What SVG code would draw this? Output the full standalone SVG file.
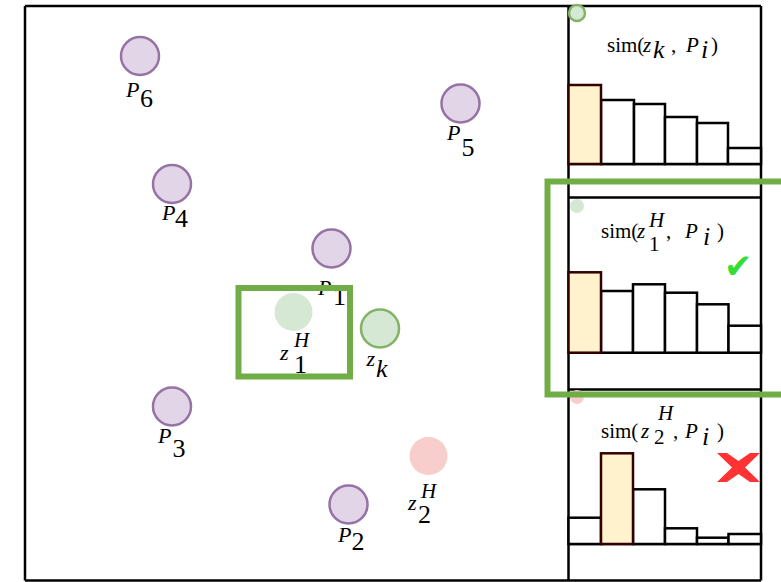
<svg xmlns="http://www.w3.org/2000/svg" width="781" height="582" viewBox="0 0 781 582">
<style>
.frame{fill:none;stroke:#000;stroke-width:2.5}
.bar{fill:#fff;stroke:#000;stroke-width:2.5}
.hbar{fill:#fff2cc;stroke:#330000;stroke-width:2.5}
.proto{fill:#e1d5e7;stroke:#9673a6;stroke-width:2.5}
.gsel{fill:none;stroke:#70ad47;stroke-width:6}
.t,.m{font-family:"Liberation Serif","Times New Roman","DejaVu Serif",serif;fill:#000}
.t{font-size:21px}
.m{font-size:22px}
.it{font-style:italic}
.sub{font-size:26px}
.sup{font-size:21px}
.ok{font-family:"DejaVu Sans",sans-serif;font-size:34px;fill:#33dd33}
</style>
<rect width="781" height="582" fill="#fff"/>

<!-- frames -->
<g id="frame">
<line class="frame" x1="25" y1="6" x2="761" y2="6"/>
<line class="frame" x1="25" y1="580.5" x2="761" y2="580.5"/>
<line class="frame" x1="25" y1="6" x2="25" y2="580.5"/>
<line class="frame" x1="568.5" y1="6" x2="568.5" y2="580.5"/>
<line class="frame" x1="761" y1="6" x2="761" y2="580.5"/>
<line class="frame" x1="568.5" y1="164" x2="761" y2="164"/>
<line class="frame" x1="568.5" y1="197.5" x2="761" y2="197.5"/>
<line class="frame" x1="568.5" y1="352.7" x2="761" y2="352.7"/>
<line class="frame" x1="568.5" y1="389.5" x2="761" y2="389.5"/>
<line class="frame" x1="568.5" y1="544" x2="761" y2="544"/>
</g>

<!-- panel 1 -->
<g id="panel1">
<circle cx="577" cy="13" r="8" fill="#d5e8d4" stroke="#82b366" stroke-width="2.5"/>
<text class="t" y="52"><tspan x="607">sim(</tspan><tspan class="it" x="643">z</tspan><tspan class="it sub" x="653" y="58">k</tspan><tspan x="671" y="52">,</tspan><tspan class="it" x="686">P</tspan><tspan class="it sub" x="701" y="58">i</tspan><tspan x="711" y="52">)</tspan></text>
<rect class="bar" x="601" y="100" width="33" height="64"/>
<rect class="bar" x="634" y="104" width="31" height="60"/>
<rect class="bar" x="665" y="117" width="32" height="47"/>
<rect class="bar" x="697" y="123" width="31" height="41"/>
<rect class="bar" x="728" y="148" width="33" height="16"/>
<rect class="hbar" x="568.5" y="85" width="32.5" height="79"/>
</g>

<!-- panel 2 -->
<g id="panel2">
<circle cx="577" cy="206" r="7" fill="#d5e8d4"/>
<text class="t" y="238"><tspan x="601">sim(</tspan><tspan class="it" x="637">z</tspan><tspan class="it sup" x="649" y="227">H</tspan><tspan x="649" y="251" font-size="21">1</tspan><tspan x="666" y="238">,</tspan><tspan class="it" x="685">P</tspan><tspan class="it sub" x="703" y="245">i</tspan><tspan x="717" y="238">)</tspan></text>
<rect class="bar" x="601" y="291" width="32" height="61.7"/>
<rect class="bar" x="633" y="284.3" width="32" height="68.4"/>
<rect class="bar" x="665" y="292.7" width="32" height="60"/>
<rect class="bar" x="697" y="304.3" width="31.5" height="48.4"/>
<rect class="bar" x="728.5" y="325.7" width="32.5" height="27"/>
<rect class="hbar" x="568.5" y="272.3" width="32.5" height="80.4"/>
<text class="ok" x="724" y="278">✔</text>
</g>

<!-- panel 3 -->
<g id="panel3">
<circle cx="577" cy="397" r="7" fill="#f8cecc"/>
<text class="t" y="438"><tspan x="601">sim(</tspan><tspan class="it" x="641">z</tspan><tspan class="it sup" x="658" y="420">H</tspan><tspan x="654" y="444" font-size="21">2</tspan><tspan x="673" y="438">,</tspan><tspan class="it" x="685">P</tspan><tspan class="it sub" x="702" y="445">i</tspan><tspan x="717" y="438">)</tspan></text>
<rect class="bar" x="568.5" y="517.7" width="32.5" height="26.3"/>
<rect class="bar" x="633" y="489.3" width="32" height="54.7"/>
<rect class="bar" x="665" y="528.3" width="32" height="15.7"/>
<rect class="bar" x="697" y="537.7" width="31.5" height="6.3"/>
<rect class="bar" x="728.5" y="534" width="32.5" height="10"/>
<rect class="hbar" x="601" y="453.3" width="32" height="90.7"/>
<path d="M717,453 L727,453 L738.5,461 L750,453 L760,453 L745,467.5 L760,482 L750,482 L738.5,474 L727,482 L717,482 L732,467.5 Z" fill="#ff3333"/>
</g>

<!-- prototypes -->
<g id="P6"><circle class="proto" cx="140" cy="56" r="19"/><text class="m"><tspan class="it" x="126" y="97">P</tspan><tspan class="sub" x="140" y="107">6</tspan></text></g>
<g id="P4"><circle class="proto" cx="172" cy="184" r="19"/><text class="m"><tspan class="it" x="162" y="220">P</tspan><tspan class="sub" x="175" y="227">4</tspan></text></g>
<g id="P5"><circle class="proto" cx="460.5" cy="103.5" r="19"/><text class="m"><tspan class="it" x="447" y="140">P</tspan><tspan class="sub" x="461.5" y="156">5</tspan></text></g>
<g id="P1"><circle class="proto" cx="331.5" cy="248.5" r="19"/><text class="m"><tspan class="it" x="318" y="295">P</tspan><tspan class="sub" x="333" y="305">1</tspan></text></g>
<g id="P3"><circle class="proto" cx="172" cy="406.5" r="19"/><text class="m"><tspan class="it" x="158" y="443">P</tspan><tspan class="sub" x="172.5" y="457">3</tspan></text></g>
<g id="P2"><circle class="proto" cx="348.5" cy="504.5" r="19"/><text class="m"><tspan class="it" x="338" y="541.5">P</tspan><tspan class="sub" x="351.5" y="550">2</tspan></text></g>

<!-- embeddings -->
<g id="z1H"><circle cx="293.5" cy="312" r="19" fill="#d5e8d4"/><text class="m"><tspan class="it" x="280" y="360">z</tspan><tspan class="it sup" x="294" y="347">H</tspan><tspan class="sub" x="294" y="373">1</tspan></text></g>
<g id="zk"><circle cx="380" cy="328.5" r="19" fill="#d5e8d4" stroke="#82b366" stroke-width="2.5"/><text class="m"><tspan class="it" x="366.5" y="366">z</tspan><tspan class="it sub" x="376" y="376.5">k</tspan></text></g>
<g id="z2H"><circle cx="428.5" cy="456" r="19" fill="#f8cecc"/><text class="m"><tspan class="it" x="408" y="510">z</tspan><tspan class="it sup" x="421" y="498">H</tspan><tspan class="sub" x="418" y="523">2</tspan></text></g>

<!-- selection boxes -->
<g id="sel-local"><rect class="gsel" x="238.5" y="288" width="111.5" height="88.5"/></g>
<g id="sel-panel"><rect class="gsel" x="547.5" y="181.5" width="250" height="213"/></g>
<g id="connectors"/>
</svg>
